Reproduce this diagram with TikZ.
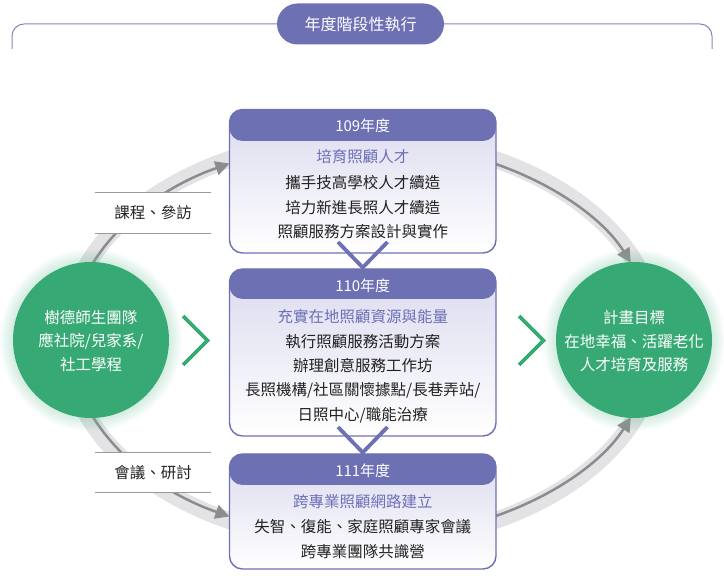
\documentclass[tikz,border=0pt]{standalone}
\usepackage{fontspec}
\setmainfont{Noto Sans CJK TC}
\usetikzlibrary{arrows.meta}
\definecolor{hdr}{HTML}{6E70B4}
\definecolor{subc}{HTML}{6D6FB8}
\definecolor{grn}{HTML}{37A975}
\definecolor{bandc}{HTML}{E3E3E5}
\definecolor{arrc}{HTML}{8C8C8E}
\definecolor{lblc}{HTML}{9A9A9A}
\definecolor{txtc}{HTML}{222222}
\definecolor{lav}{HTML}{DADAEE}
\begin{document}
\begin{tikzpicture}[x=1pt,y=1pt,
  yearbox/.style={draw=hdr, line width=1.4pt, rounded corners=13pt, minimum width=266.5pt,
    top color=lav, bottom color=white, inner sep=0pt,
    path picture={\fill[hdr] (path picture bounding box.north west) rectangle ([yshift=-#1]path picture bounding box.north east);}},
  hd/.style={text=white, font=\fontsize{15}{18}\selectfont, inner sep=0pt},
  subt/.style={text=subc, font=\fontsize{15.5}{18}\selectfont, inner sep=0pt},
  body/.style={text=txtc, font=\fontsize{15.5}{18}\selectfont, inner sep=0pt},
  ctext/.style={text=white, font=\fontsize{15.5}{18}\selectfont, inner sep=0pt},
  pill/.style={fill=hdr, rounded corners=20.5pt, minimum width=167pt, minimum height=41pt, inner sep=0pt, text=white, font=\fontsize{16}{19}\selectfont},
  bracket/.style={draw=hdr!85, line width=1pt, rounded corners=12pt},
  circ/.style={circle, fill=grn, minimum size=156pt, inner sep=0pt},
  lblbox/.style={fill=white, minimum width=116pt, minimum height=40pt, inner sep=0pt, text=txtc, font=\fontsize{15.5}{18}\selectfont},
  lblline/.style={draw=lblc, line width=1.2pt},
  darr/.style={draw=arrc, line width=2.5pt, -{Triangle[length=14pt,width=14pt]}},
  vchev/.style={draw=hdr, line width=3.8pt},
  gchev/.style={draw=grn, line width=3.8pt}
]
\useasboundingbox (0,0) rectangle (724,-580);

% title bracket
\node[pill] (title) at (360.5,-24) {年度階段性執行};
\draw[bracket] (title.west) -- (12,-24) -- (12,-49);
\draw[bracket] (title.east) -- (712,-24) -- (712,-49);

% band
\draw[bandc, line width=17pt] (362,-340) ellipse [x radius=296, y radius=202];

% arrows on the band
\draw[darr] ({362+292*cos(160)},{-340+198*sin(160)}) arc[start angle=160, end angle=117, x radius=292, y radius=198];
\draw[darr] ({362+292*cos(64)},{-340+198*sin(64)}) arc[start angle=64, end angle=23, x radius=292, y radius=198];
\draw[darr] ({362+292*cos(200)},{-340+198*sin(200)}) arc[start angle=200, end angle=243, x radius=292, y radius=198];
\draw[darr] ({362+292*cos(296)},{-340+198*sin(296)}) arc[start angle=296, end angle=337, x radius=292, y radius=198];

% glows
\foreach \r in {79,80.5,...,92} {
  \fill[grn!70!white, opacity=0.04] (91,-340) circle (\r);
  \fill[grn!70!white, opacity=0.04] (634,-340) circle (\r);
}
\node[circ] (lc) at (91,-340) {};
\node[circ] (rc) at (634,-340) {};

\node[ctext] (lc1) at (91,-318) {樹德師生團隊};
\node[ctext] (lc2) at (91,-341.5) {應社院/兒家系/};
\node[ctext] (lc3) at (91,-365) {社工學程};

\node[ctext] (rc1) at (634,-318) {計畫目標};
\node[ctext] (rc2) at (634,-341.5) {在地幸福、活躍老化};
\node[ctext] (rc3) at (634,-365) {人才培育及服務};

% labels
\node[lblbox] (l1) at (153,-213) {課程、參訪};
\draw[lblline] (l1.north west) -- (l1.north east);
\draw[lblline] (l1.south west) -- (l1.south east);
\node[lblbox] (l2) at (153,-472.5) {會議、研討};
\draw[lblline] (l2.north west) -- (l2.north east);
\draw[lblline] (l2.south west) -- (l2.south east);

% green chevrons
\draw[gchev] (183,-316) -- (207.5,-340.5) -- (183,-365);
\draw[gchev] (519,-316) -- (543.5,-340.5) -- (519,-365);

% year boxes
\node[yearbox=31.5pt, minimum height=143.5pt] (b109) at (362.75,-181.25) {};
\node[yearbox=30pt, minimum height=167pt] (b110) at (362.75,-352.5) {};
\node[yearbox=31pt, minimum height=115pt] (b111) at (362.75,-511.5) {};

% purple chevrons
\draw[vchev] (338,-242) -- (362.75,-267.5) -- (387.5,-242);
\draw[vchev] (338,-427) -- (362.75,-452.5) -- (387.5,-427);

% texts 109
\node[hd] (h109) at (362.75,-126) {109年度};
\node[subt] (s109) at (362.75,-157) {培育照顧人才};
\node[body] (t109a) at (362.75,-183) {攜手技高學校人才續造};
\node[body] (t109b) at (362.75,-207.5) {培力新進長照人才續造};
\node[body] (t109c) at (362.75,-232) {照顧服務方案設計與實作};

% texts 110
\node[hd] (h110) at (362.75,-286) {110年度};
\node[subt] (s110) at (362.75,-316.5) {充實在地照顧資源與能量};
\node[body] (t110a) at (362.75,-341.5) {執行照顧服務活動方案};
\node[body] (t110b) at (362.75,-366) {辦理創意服務工作坊};
\node[body] (t110c) at (362.75,-390.5) {長照機構/社區關懷據點/長巷弄站/};
\node[body] (t110d) at (362.75,-415) {日照中心/職能治療};

% texts 111
\node[hd] (h111) at (362.75,-471) {111年度};
\node[subt] (s111) at (362.75,-501.5) {跨專業照顧網路建立};
\node[body] (t111a) at (362.75,-527) {失智、復能、家庭照顧專家會議};
\node[body] (t111b) at (362.75,-551.5) {跨專業團隊共識營};
\end{tikzpicture}
\end{document}
